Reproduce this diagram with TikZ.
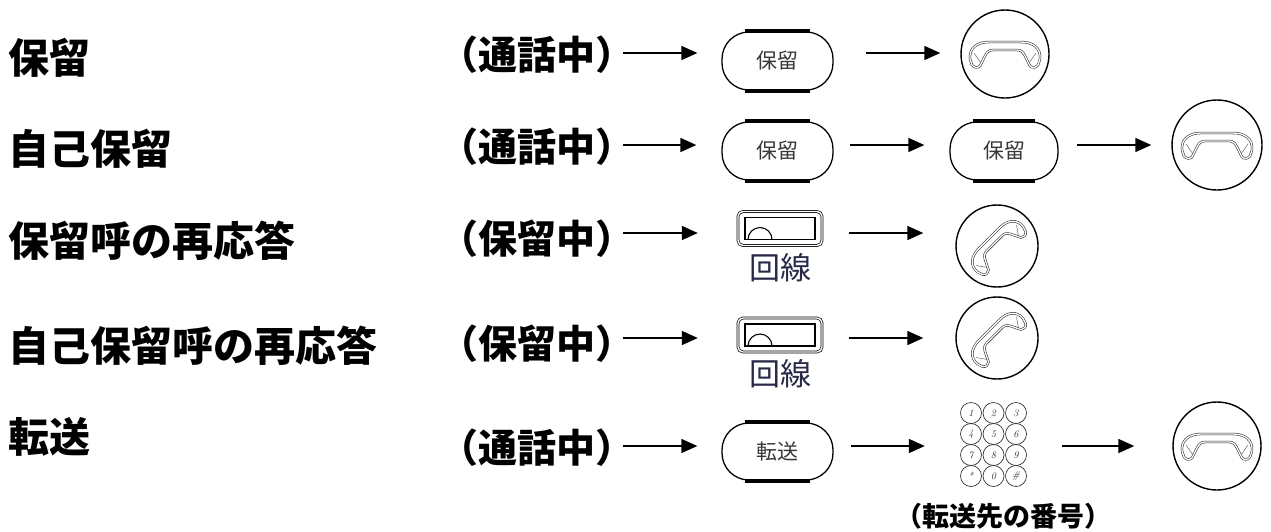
\documentclass[tikz,border=0pt]{standalone}
\usepackage{fontspec}
\newfontfamily\jp{Noto Sans CJK JP}
\usetikzlibrary{arrows.meta}
\definecolor{keyblue}{RGB}{40,42,72}
\definecolor{btngray}{RGB}{55,55,55}
% handset outline, centre at origin, y runs downwards
\newcommand{\handsetshape}{%
  \draw[hsline] (-35,5) .. controls (-36,-6) and (-28,-12) .. (-16,-12) -- (16,-12)
    .. controls (28,-12) and (36,-6) .. (35,5) -- (33,11) .. controls (31,14) and (27,14) .. (25,12)
    -- (20,2) .. controls (18,-2) and (16,-4) .. (12,-4) -- (-12,-4)
    .. controls (-16,-4) and (-18,-2) .. (-20,2) -- (-25,12)
    .. controls (-27,14) and (-31,14) .. (-33,11) -- cycle;
  \draw[black!60, line width=0.5pt] (-31,-1) -- (-24,9) (31,-1) -- (24,9);}
\tikzset{
  rowlabel/.style={anchor=west, inner sep=0pt, font=\jp\bfseries\fontsize{41}{41}\selectfont},
  statelabel/.style={anchor=west, inner sep=0pt, font=\jp\bfseries\fontsize{39}{39}\selectfont},
  keybtn/.style={draw, line width=1.3pt, rounded corners=27pt, minimum width=111pt, minimum height=58pt,
    inner sep=0pt, text=btngray, font=\jp\fontsize{21}{21}\selectfont},
  btnbar/.style={line width=3.8pt},
  linekey/.style={minimum width=86pt, minimum height=36pt, inner sep=0pt},
  keycaption/.style={inner sep=0pt, text=keyblue, font=\jp\fontsize{31}{31}\selectfont},
  phone/.style={draw, circle, line width=1.4pt, inner sep=0pt},
  flow/.style={-{Triangle[length=16pt,width=14pt]}, line width=1.5pt},
  hsline/.style={draw=black!85, double=white, double distance=1.3pt, line width=0.55pt, line join=round},
  handset/.pic={\handsetshape},
  linekeypic/.pic={
    \draw[double, double distance=1.4pt, line width=0.7pt, rounded corners=5pt] (-42,-17) rectangle (42,17);
    \draw[line width=1.1pt] (-35,-11) rectangle (35,11);
    \draw[line width=1.1pt] (-32,11) arc[start angle=180, end angle=360, radius=12];
    \draw[line width=1.8pt] (-4,11) -- (35,11);},
  dialpad/.pic={
    \foreach \d [count=\i from 0] in {1,2,3,4,5,6,7,8,9,*,0,\#} {
      \pgfmathtruncatemacro\c{mod(\i,3)}
      \pgfmathtruncatemacro\r{div(\i,3)}
      \draw[line width=0.7pt, black!80] (-22.5+22.5*\c,-31.5+21*\r) circle (10.5)
        node[font=\fontsize{10}{10}\selectfont\itshape, black!80] {\d};
    }}
}
\begin{document}
\begin{tikzpicture}[x=1pt, y=-1pt]
  \fill[white] (0,0) rectangle (1271,531);
  \useasboundingbox (0,0) rectangle (1271,531);

  % row heights of the arrows
  \coordinate (r1) at (0,53);
  \coordinate (r2) at (0,145);
  \coordinate (r3) at (0,233);
  \coordinate (r4) at (0,338);
  \coordinate (r5) at (0,446);

  \node[rowlabel] (lHold) at (8,58) {保留};
  \node[rowlabel] (lSelf) at (8,149) {自己保留};
  \node[rowlabel] (lPick) at (8,241) {保留呼の再応答};
  \node[rowlabel] (lSelfPick) at (8,346) {自己保留呼の再応答};
  \node[rowlabel] (lXfer) at (8,437) {転送};

  \node[statelabel] (sHold) at (439,55) {（通話中）};
  \node[statelabel] (sSelf) at (439,147) {（通話中）};
  \node[statelabel] (sPick) at (439,239) {（保留中）};
  \node[statelabel] (sSelfPick) at (439,344) {（保留中）};
  \node[statelabel] (sXfer) at (439,448) {（通話中）};

  % keys
  \node[keybtn] (bHold) at (777.5,61) {保留};
  \node[keybtn] (bSelfA) at (777.5,151) {保留};
  \node[keybtn, minimum width=108pt] (bSelfB) at (1004,151) {保留};
  \node[keybtn, minimum height=57pt] (bXfer) at (777.5,451.5) {転送};
  \foreach \b in {bHold,bSelfA,bSelfB,bXfer} {
    \draw[btnbar] ([xshift=24pt]\b.north west) -- ([xshift=-24pt]\b.north east);
    \draw[btnbar] ([xshift=24pt]\b.south west) -- ([xshift=-24pt]\b.south east);
  }

  \node[linekey] (kPick) at (780,228.5) {};
  \pic at (kPick.center) {linekeypic};
  \node[keycaption] (cPick) at (780,268) {回線};
  \node[linekey] (kSelfPick) at (780,335) {};
  \pic at (kSelfPick.center) {linekeypic};
  \node[keycaption] (cSelfPick) at (780,374) {回線};

  \node[minimum width=67pt, minimum height=85pt, inner sep=0pt] (pad) at (993.5,444.5) {};
  \pic at (pad.center) {dialpad};
  \node[inner sep=0pt, font=\jp\bfseries\fontsize{27}{27}\selectfont] (nXfer) at (1003,516) {（転送先の番号）};

  % handsets
  \node[phone, minimum size=88pt] (hHold) at (1005,54) {};
  \pic at (hHold.center) {handset};
  \node[phone, minimum size=90pt] (hSelf) at (1217,145) {};
  \pic at (hSelf.center) {handset};
  \node[phone, minimum size=82pt] (hPick) at (997,246) {};
  \pic[rotate=45, scale=0.92] at (hPick.center) {handset};
  \node[phone, minimum size=82pt] (hSelfPick) at (997,338) {};
  \pic[rotate=45, scale=0.92] at (hSelfPick.center) {handset};
  \node[phone, minimum size=88pt] (hXfer) at (1217,446) {};
  \pic at (hXfer.center) {handset};

  % arrows
  \draw[flow, shorten <=-11pt, shorten >=24pt] (r1 -| sHold.east) -- (r1 -| bHold.west);
  \draw[flow, shorten <=32pt, shorten >=20pt] (r1 -| bHold.east) -- (r1 -| hHold.west);

  \draw[flow, shorten <=-11pt, shorten >=25pt] (r2 -| sSelf.east) -- (r2 -| bSelfA.west);
  \draw[flow, shorten <=16pt, shorten >=25pt] (r2 -| bSelfA.east) -- (r2 -| bSelfB.west);
  \draw[flow, shorten <=18pt, shorten >=20pt] (r2 -| bSelfB.east) -- (r2 -| hSelf.west);

  \draw[flow, shorten <=-11pt, shorten >=39pt] (r3 -| sPick.east) -- (r3 -| kPick.west);
  \draw[flow, shorten <=26pt, shorten >=32pt] (r3 -| kPick.east) -- (r3 -| hPick.west);

  \draw[flow, shorten <=-11pt, shorten >=39pt] (r4 -| sSelfPick.east) -- (r4 -| kSelfPick.west);
  \draw[flow, shorten <=26pt, shorten >=32pt] (r4 -| kSelfPick.east) -- (r4 -| hSelfPick.west);

  \draw[flow, shorten <=-11pt, shorten >=24pt] (r5 -| sXfer.east) -- (r5 -| bXfer.west);
  \draw[flow, shorten <=17pt, shorten >=35pt] (r5 -| bXfer.east) -- (r5 -| pad.west);
  \draw[flow, shorten <=35pt, shorten >=38pt] (r5 -| pad.east) -- (r5 -| hXfer.west);
\end{tikzpicture}
\end{document}
